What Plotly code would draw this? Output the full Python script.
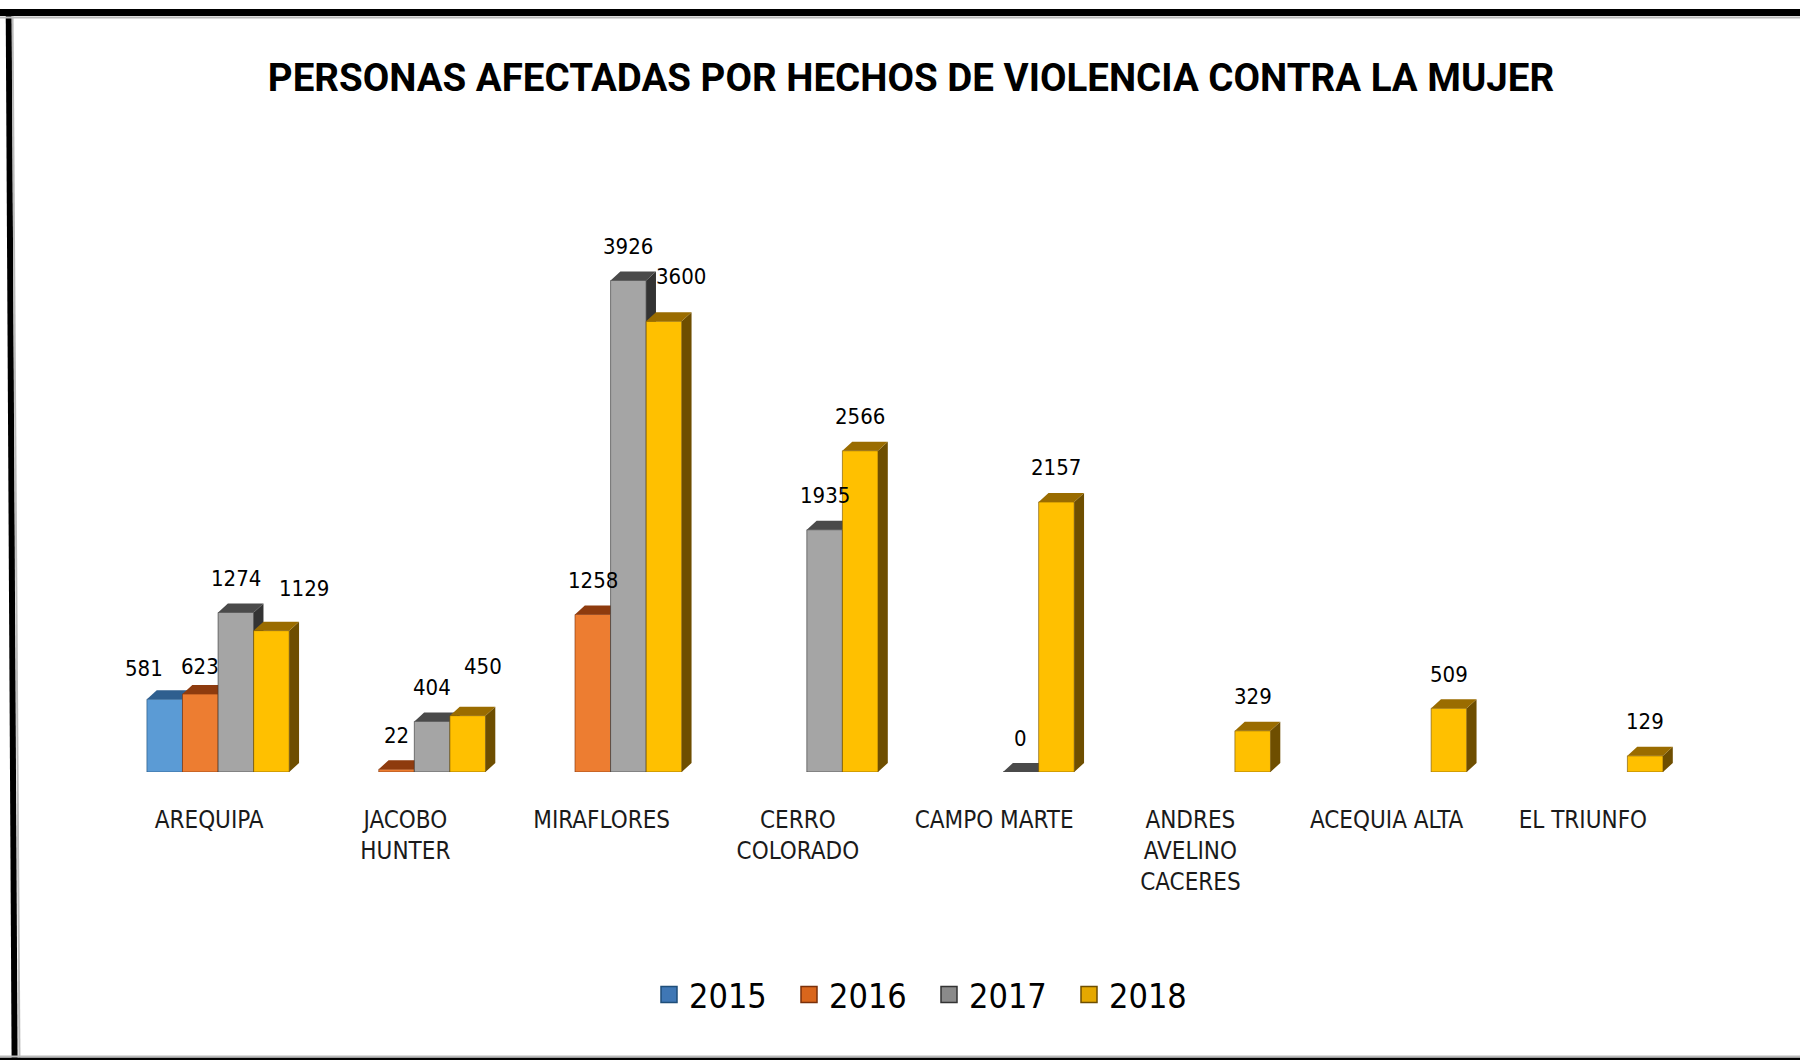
import plotly.graph_objects as go

# ---------------- data ----------------
categories = ["AREQUIPA", "JACOBO<br>HUNTER", "MIRAFLORES", "CERRO<br>COLORADO",
              "CAMPO MARTE", "ANDRES<br>AVELINO<br>CACERES", "ACEQUIA ALTA", "EL TRIUNFO"]
years = ["2015", "2016", "2017", "2018"]
v2015 = [581, None, None, None, None, None, None, None]
v2016 = [623, 22, 1258, None, None, None, None, None]
v2017 = [1274, 404, 3926, 1935, 0, None, None, None]
v2018 = [1129, 450, 3600, 2566, 2157, 329, 509, 129]
series = [v2015, v2016, v2017, v2018]

title_text = "PERSONAS AFECTADAS POR HECHOS DE VIOLENCIA CONTRA LA MUJER"

# ---------------- styles ----------------
front = ["#5B9BD5", "#ED7D31", "#A5A5A5", "#FFC000"]
top_c = ["#2F5F8F", "#8E3B0E", "#4A4A4A", "#9A6C00"]
side_c = ["#1F4E79", "#7A300A", "#333333", "#6E4E00"]
legend_c = ["#3F77B5", "#D9661C", "#8A8A8A", "#E5A800"]
FONT = "Liberation Sans Narrow, DejaVu Sans Condensed, Liberation Sans, Arial, sans-serif"
TITLE_FONT = "Roboto, DejaVu Sans Condensed, sans-serif"

W, H = 1800, 1060
L, R, T, B = 111, 119, 200, 288
PW, PH = W - L - R, H - T - B
PX_PER_UNIT = 0.1252
YMAX = PH / PX_PER_UNIT

BW = 0.1813          # bar width (x units)
S0 = -0.317          # left edge of first bar relative to category
DX = 0.05            # 3d depth in x units
DY = 9 / PX_PER_UNIT # 3d depth in y units

# label nudges (px) for a few labels that Excel shifted to avoid overlap
nudge = {(0, 0): (-21, -3), (0, 1): (0, -6), (0, 3): (33, 8),
         (2, 3): (17, 11), (1, 3): (15, 15)}

fig = go.Figure()
xs = list(range(len(categories)))

for k, vals in enumerate(series):
    off = S0 + k * BW
    fig.add_trace(go.Bar(
        x=xs, y=vals, width=BW, offset=off,
        marker=dict(color=front[k], line=dict(color=side_c[k], width=0.6)),
        showlegend=False, name=years[k], zorder=k,
        hovertemplate="%{y}<extra>" + years[k] + "</extra>"))
    sx, sy, tx, ty = [], [], [], []
    for i, v in enumerate(vals):
        if v is None:
            continue
        xl = i + off
        xr = xl + BW
        sx += [xr, xr, xr + DX, xr + DX, xr, None]
        sy += [0, v, v + DY, DY, 0, None]
        tx += [xl, xr, xr + DX, xl + DX, xl, None]
        ty += [v, v, v + DY, v + DY, v, None]
    fig.add_trace(go.Scatter(x=sx, y=sy, mode="lines", fill="toself",
                             fillcolor=side_c[k], line=dict(width=0, color=side_c[k]),
                             showlegend=False, hoverinfo="skip", zorder=k))
    fig.add_trace(go.Scatter(x=tx, y=ty, mode="lines", fill="toself",
                             fillcolor=top_c[k], line=dict(width=0, color=top_c[k]),
                             showlegend=False, hoverinfo="skip", zorder=k))
    # legend proxy
    fig.add_trace(go.Scatter(x=[None], y=[None], mode="markers", name=years[k],
                             marker=dict(symbol="square", size=21, color=legend_c[k],
                                         line=dict(color=side_c[k], width=1.5)),
                             showlegend=True))
    # data labels
    for i, v in enumerate(vals):
        if v is None:
            continue
        nx, ny = nudge.get((i, k), (0, 0))
        fig.add_annotation(x=i + off + BW / 2, y=v, text=str(v), showarrow=False,
                           xshift=nx, yshift=34 + ny, yanchor="middle",
                           font=dict(family=FONT, size=22, color="#000000"))

# frame lines (pixel -> paper)
def px(xp):
    return (xp - L) / PW

def py(yp):
    return (H - B - yp) / PH

frame = [
    (8.7, 9, 14.6, 1060, "#000000", 6),
    (12.5, 9, 19.5, 1060, "#BBBBBB", 2),
    (0, 12.5, 1800, 12.5, "#000000", 7),
    (0, 17.5, 1800, 17.5, "#BBBBBB", 2),
    (0, 1059, 1800, 1059, "#000000", 3),
    (0, 1056.5, 1800, 1056.5, "#BBBBBB", 2),
]
for x0, y0, x1, y1, c, w in frame:
    fig.add_shape(type="line", xref="paper", yref="paper",
                  x0=px(x0), y0=py(y0), x1=px(x1), y1=py(y1),
                  line=dict(color=c, width=w), layer="above")

fig.update_layout(
    width=W, height=H,
    margin=dict(l=L, r=R, t=T, b=B, pad=0),
    paper_bgcolor="white", plot_bgcolor="white",
    barmode="overlay",
    title=dict(text="<b>" + title_text + "</b>", x=911 / W, xanchor="center",
               y=1 - 78 / H, yanchor="middle", xref="container", yref="container",
               font=dict(family=TITLE_FONT, size=38.5, color="#000000")),
    xaxis=dict(range=[-0.5, len(categories) - 0.5], tickvals=xs, ticktext=categories,
               showgrid=False, zeroline=False, showline=False,
               ticks="outside", ticklen=26, tickcolor="rgba(0,0,0,0)",
               tickfont=dict(family=FONT, size=24, color="#1a1a1a")),
    yaxis=dict(range=[0, YMAX], visible=False, showgrid=False, zeroline=False),
    legend=dict(orientation="h", xref="container", yref="container",
                x=929 / W, xanchor="center", y=1 - 995 / H, yanchor="middle",
                font=dict(family=FONT, size=34, color="#000000"),
                itemsizing="trace", entrywidth=95, entrywidthmode="pixels"),
    showlegend=True,
)

fig.write_html("out.html", config={"displayModeBar": False},
               post_script="document.body.style.margin='0';document.body.style.overflow='hidden';")
